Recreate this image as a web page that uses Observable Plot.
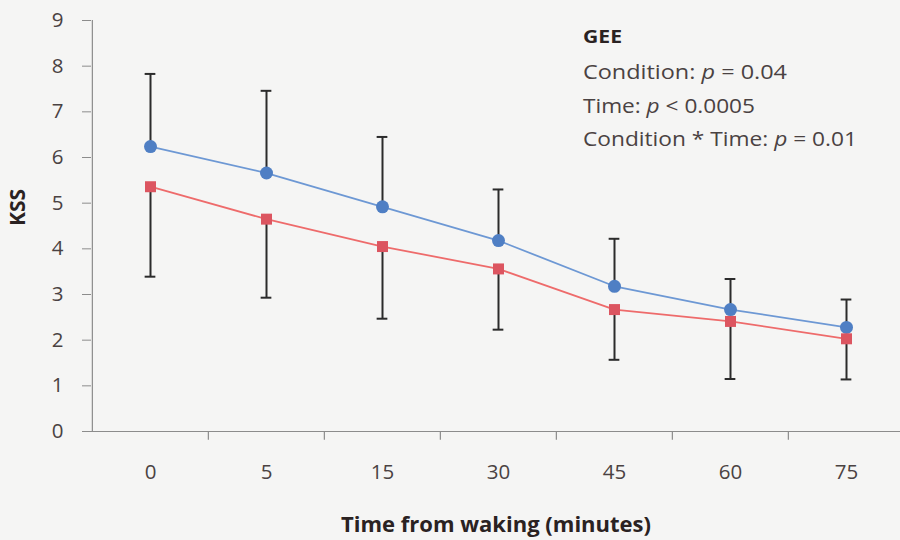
<!DOCTYPE html>
<html>
<head>
<meta charset="utf-8">
<script src="https://cdn.jsdelivr.net/npm/d3@7"></script>
<script src="https://cdn.jsdelivr.net/npm/@observablehq/plot@0.6"></script>
<style>
  html, body { margin: 0; padding: 0; background: #f5f5f4; overflow: hidden; }
</style>
</head>
<body>
<div id="chart"></div>
<script>
const categories = ["0", "5", "15", "30", "45", "60", "75"];
const blueMean  = [6.24, 5.66, 4.92, 4.18, 3.18, 2.67, 2.28];
const blueUpper = [7.83, 7.46, 6.45, 5.30, 4.22, 3.34, 2.89];
const redMean   = [5.36, 4.65, 4.05, 3.56, 2.67, 2.41, 2.03];
const redLower  = [3.39, 2.93, 2.47, 2.23, 1.57, 1.15, 1.14];
const yTicks = [0, 1, 2, 3, 4, 5, 6, 7, 8, 9];
const xTitle = "Time from waking (minutes)";
const yTitle = "KSS";
const annotTitle = "GEE";
const annotLines = [
  ["Condition: ", "p", " = 0.04"],
  ["Time: ", "p", " < 0.0005"],
  ["Condition * Time: ", "p", " = 0.01"]
];

const blue = categories.map((c, i) => ({x: c, mean: blueMean[i], hi: blueUpper[i]}));
const red = categories.map((c, i) => ({x: c, mean: redMean[i], lo: redLower[i]}));

const W = 900, H = 540;
const xRange = [91, 905];
const bw = (xRange[1] - xRange[0]) / categories.length;
const capW = 11;
const axisColor = "#8c8c8c";
const barColor = "#2b2b2b";
const textColor = "#4a4242";
const font = "'Open Sans', Lato, sans-serif";

const plot = Plot.plot({
  width: W,
  height: H,
  marginTop: 20,
  marginBottom: 109,
  marginLeft: 91,
  marginRight: 0,
  style: {fontFamily: font, background: "#f5f5f4", color: textColor},
  x: {type: "band", domain: categories, range: xRange, padding: 0},
  y: {domain: [0, 9]},
  marks: [
    Plot.ruleY([0], {stroke: axisColor, strokeWidth: 1.2}),
    Plot.ruleX([categories[0]], {x: d => d, y1: 0, y2: 9, dx: -bw / 2, stroke: axisColor, strokeWidth: 1.2}),
    Plot.ruleX(categories.slice(1), {x: d => d, y1: 0, y2: -0.19, dx: -bw / 2, stroke: axisColor, strokeWidth: 1.2}),
    Plot.axisY({ticks: yTicks, tickSize: 9, tickPadding: 19, fontSize: 20.5, stroke: axisColor, fill: textColor, label: null}),
    Plot.axisX({tickSize: 0, tickPadding: 33, fontSize: 20.5, fill: textColor, label: null}),
    // error bars
    Plot.ruleX(blue, {x: "x", y1: "mean", y2: "hi", stroke: barColor, strokeWidth: 2}),
    Plot.tickY(blue, {x: "x", y: "hi", stroke: barColor, strokeWidth: 2, insetLeft: (bw - capW) / 2, insetRight: (bw - capW) / 2}),
    Plot.ruleX(red, {x: "x", y1: "lo", y2: "mean", stroke: barColor, strokeWidth: 2}),
    Plot.tickY(red, {x: "x", y: "lo", stroke: barColor, strokeWidth: 2, insetLeft: (bw - capW) / 2, insetRight: (bw - capW) / 2}),
    // lines
    Plot.line(blue, {x: "x", y: "mean", stroke: "#6d98d4", strokeWidth: 1.8}),
    Plot.line(red, {x: "x", y: "mean", stroke: "#ee6b6b", strokeWidth: 1.8}),
    // markers
    Plot.dot(blue, {x: "x", y: "mean", r: 6.5, fill: "#4f7fc4", stroke: "none", symbol: "circle"}),
    Plot.dot(red, {x: "x", y: "mean", r: 6.2, fill: "#dc5560", stroke: "none", symbol: "square"}),
    // axis titles
    Plot.text([xTitle], {frameAnchor: "bottom", dy: 93, lineAnchor: "middle", fontSize: 22, fontWeight: "bold", fill: "#2a2222"}),
    Plot.text([yTitle], {frameAnchor: "left", dx: -73, rotate: -90, fontSize: 21, fontWeight: "bold", fill: "#2a2222"})
  ]
});

const svg = d3.select(plot);
const g = svg.append("g")
  .attr("font-family", font)
  .attr("fill", textColor)
  .attr("text-anchor", "start");
g.append("text")
  .attr("x", 583).attr("y", 42.7)
  .attr("font-size", 18).attr("font-weight", "bold").attr("fill", "#2a2222")
  .attr("textLength", 39).attr("lengthAdjust", "spacingAndGlyphs")
  .text(annotTitle);
const baselines = [78.5, 113, 146];
const widths = [204, 172, 274];
annotLines.forEach((parts, i) => {
  const t = g.append("text")
    .attr("x", 583).attr("y", baselines[i])
    .attr("font-size", 20)
    .attr("textLength", widths[i]).attr("lengthAdjust", "spacingAndGlyphs");
  parts.forEach((p, j) => {
    const s = t.append("tspan").text(p);
    if (j === 1) s.attr("font-style", "italic");
  });
});

document.getElementById("chart").appendChild(plot);
</script>
</body>
</html>
